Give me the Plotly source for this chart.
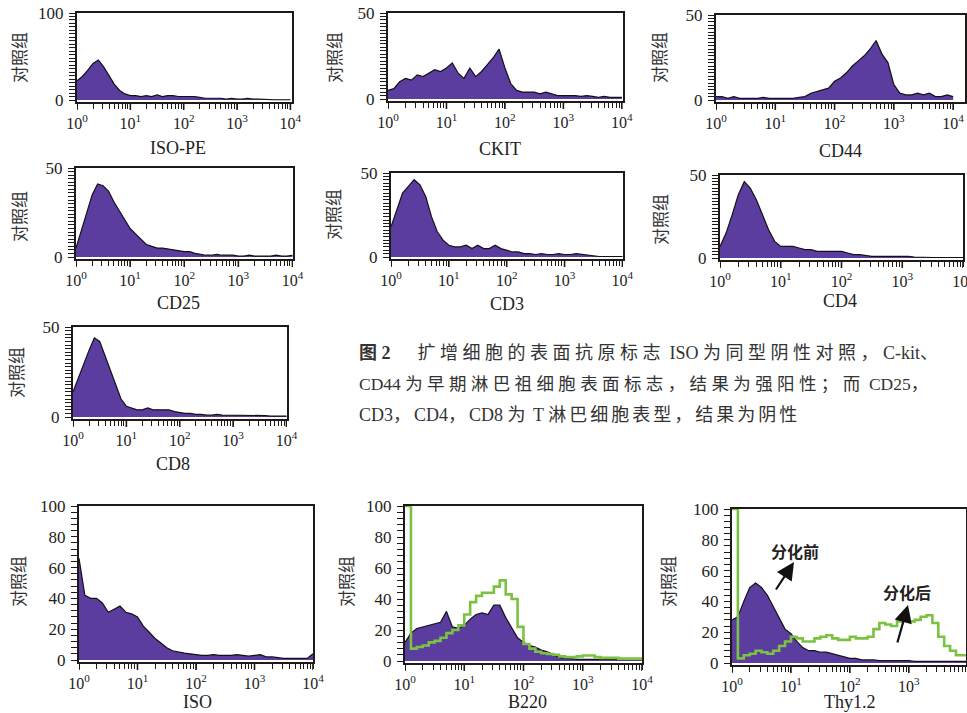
import plotly.graph_objects as go

W, H = 967, 713

# ---- data: histogram counts per log-decade bin (log10 of fluorescence) ----
LOG_BINS = [0.0, 0.1, 0.2, 0.3, 0.4, 0.5, 0.6, 0.7, 0.8, 0.9,
            1.0, 1.1, 1.2, 1.3, 1.4, 1.5, 1.6, 1.7, 1.8, 1.9,
            2.0, 2.1, 2.2, 2.3, 2.4, 2.5, 2.6, 2.7, 2.8, 2.9,
            3.0, 3.1, 3.2, 3.3, 3.4, 3.5, 3.6, 3.7, 3.8, 3.9, 4.0]

ISO_PE = [22, 27, 34, 42, 46, 38, 28, 18, 11, 7,
          5, 5, 4, 5, 4, 6, 4, 5, 5, 4,
          4, 4, 4, 3, 2, 2, 2, 2, 1, 2,
          1, 1, 2, 1, 1, 0.5, 0.5, 0.3, 0.3, 0.3, 0.3]
CKIT = [5, 6, 10, 12, 11, 14, 13, 15, 17, 16,
        18, 21, 15, 12, 18, 13, 16, 20, 24, 29,
        18, 9, 5, 4, 4, 4, 3, 4, 3, 2,
        2, 2, 2, 1.5, 2, 1.5, 1, 1.5, 1, 1, 1]
CD44 = [2, 2, 1, 2, 1, 1, 1, 1, 1.5, 1,
        1, 1, 1, 1, 1.5, 2, 4, 5, 6, 7,
        11, 13, 16, 20, 23, 26, 30, 35, 27, 22,
        9, 4, 3, 3, 4, 3, 4, 2, 2, 3, 2]
CD25 = [5, 15, 25, 35, 41, 40, 37, 31, 26, 21,
        16, 13, 10, 7, 6, 5, 5, 4.5, 4, 3.5,
        3, 3, 2, 1.5, 1, 1, 1.5, 1, 1, 1,
        0.5, 0.5, 1, 0.5, 0.5, 0.5, 0.5, 1, 0.5, 0.5, 1]
CD3 = [18, 28, 38, 42, 46, 43, 36, 24, 15, 10,
       7, 6, 6, 7, 5, 7, 5, 5, 7, 5,
       4, 3, 3, 2, 2, 1.5, 2, 1.5, 1.5, 2,
       1.5, 1.5, 2, 1.5, 1, 0.5, 0.3, 0.3, 0.3, 0.3, 0.3]
CD4 = [7, 15, 26, 38, 46, 42, 35, 26, 17, 10,
       7, 7, 7, 6, 5, 5, 4, 4, 4, 4,
       4, 3, 2, 2, 1.5, 1, 1, 1, 1, 1,
       1, 1, 0.5, 0.3, 0.3, 0.3, 0.3, 0.3, 0.3, 0.3, 0.3]
CD8 = [14, 22, 30, 37, 44, 42, 34, 26, 18, 10,
       6, 5, 4, 4, 5, 4, 4, 4, 4, 3,
       2.5, 2, 2, 1.5, 1.5, 1, 1, 1.5, 1, 1,
       0.8, 0.8, 0.8, 1, 0.8, 1, 0.8, 0.5, 0.5, 0.5, 0.5]
ISO = [66, 42, 40, 40, 37, 31, 33, 35, 31, 30,
       28, 22, 18, 14, 11, 8, 6, 5, 4.5, 4,
       3.5, 3, 3, 3.5, 3, 3, 3, 3.5, 3, 2.5,
       3, 3.5, 2, 2, 1.5, 1, 1, 1, 1, 1, 4]
B220_BEFORE = [12, 18, 21, 22, 23, 24, 25, 32, 22, 21,
               23, 27, 30, 31, 30, 36, 36, 28, 21, 15,
               12, 10, 9, 7, 6, 4, 2.5, 1.5, 1.5, 1,
               1, 1, 1, 1, 1, 1, 0.8, 0.8, 0.8, 0.8, 1]
B220_AFTER = [100, 8, 9, 10, 12, 13, 15, 18, 20, 23,
              30, 38, 42, 44, 44, 48, 52, 43, 40, 22,
              11, 8, 6, 5, 4.5, 4, 3, 2.5, 2.5, 3,
              3.5, 3.5, 2.5, 2, 2, 2, 1.5, 1.5, 1.5, 1.5, 2]
THY_BEFORE = [28, 30, 40, 49, 52, 49, 44, 37, 30, 22,
              19, 14, 10, 8, 8, 7, 7, 6, 5, 4,
              3, 3, 2, 2, 2, 1.5, 1.5, 1.5, 1.5, 1.5,
              1.5, 1, 1, 1, 1, 1, 1, 1, 1, 1, 1]
THY_AFTER = [100, 3, 5, 6, 8, 7, 6, 8, 11, 14,
             17, 16, 14, 14, 16, 17, 18, 16, 15, 15,
             17, 16, 16, 17, 22, 26, 25, 24, 27, 29,
             27, 28, 30, 31, 26, 17, 11, 8, 5, 5, 4]

X_TICK_VALS = [1, 10, 100, 1000, 10000]
X_TICK_TEXT = ["10<sup>0</sup>", "10<sup>1</sup>", "10<sup>2</sup>",
               "10<sup>3</sup>", "10<sup>4</sup>"]
X_MINOR_VALS = [m * 10 ** d for d in range(4) for m in range(2, 10)]
Y_LABEL = "对照组"

X = [10 ** v for v in LOG_BINS]

# all x ticks (labelled decades + unlabelled minor ticks)
X_ALL_VALS = X_TICK_VALS + X_MINOR_VALS
X_ALL_TEXT = X_TICK_TEXT + [""] * len(X_MINOR_VALS)

PURPLE = "#5b3c9f"
GREEN = "#7cc242"
AXC = "#1e1a1a"
SERIF = "Liberation Serif, Times New Roman, serif"
CJK = "Noto Sans CJK SC"

# name, box(left,right,top,zero) in px, ymax, yticks, series, ylabel pos, xlabel pos, xmax
panels = [
    ("ISO-PE", (77, 292, 13, 100), 100, [0, 100], [ISO_PE], None, (18, 58), (178, 148), 4.03),
    ("CKIT", (388, 623, 13, 99), 50, [0, 50], [CKIT], None, (333, 58), (500, 149), 4.02),
    ("CD44", (716, 965, 15, 100), 50, [0, 50], [CD44], None, (658, 58), (840, 151), 4.2),
    ("CD25", (76, 293, 168, 257), 50, [0, 50], [CD25], None, (18, 217), (178, 303), 4.01),
    ("CD3", (391, 623, 173, 257), 50, [0, 50], [CD3], None, (333, 215), (507, 304), 4.01),
    ("CD4", (720, 963, 175, 258), 50, [0, 50], [CD4], None, (659, 220), (840, 301), 4.0),
    ("CD8", (73, 287, 327, 417), 50, [0, 50], [CD8], None, (15, 373), (173, 464), 4.01),
    ("ISO", (79, 313, 506, 660), 100, [0, 20, 40, 60, 80, 100], [ISO], None, (17, 582), (197, 702), 4.0),
    ("B220", (405, 642, 506, 661), 100, [0, 20, 40, 60, 80, 100], [B220_BEFORE], B220_AFTER, (345, 582), (527, 702), 4.0),
    ("Thy1.2", (732, 966, 509, 663), 100, [0, 20, 40, 60, 80, 100], [THY_BEFORE], THY_AFTER, (667, 582), (850, 702), 3.97),
]

fig = go.Figure()
annotations = []
shapes = []
layout = {}
TICK_LEN = 5
MAJOR_LEN = 8


def sfx(k):
    return "" if k == 1 else str(k)


for i, (name, box, ymax, yt, fills, green, ylp, xlp, xmax) in enumerate(panels, start=1):
    L, R, T, Z = box
    xa, ya = "x" + sfx(i), "y" + sfx(i)
    for s in fills:
        fig.add_trace(go.Scatter(
            x=X, y=s, mode="lines", fill="tozeroy", fillcolor=PURPLE,
            line=dict(color="#151018", width=1.2), xaxis=xa, yaxis=ya,
            showlegend=False, hoverinfo="skip"))
    if green is not None:
        fig.add_trace(go.Scatter(
            x=X, y=green, mode="lines", line=dict(color=GREEN, width=2.6, shape="hv"),
            xaxis=xa, yaxis=ya, showlegend=False, hoverinfo="skip"))
    bottom = Z + 2
    upx = ymax / (Z - T)              # data units per pixel (y)
    ylo = -upx * (bottom - Z)

    y_all = [k * ymax / 25 for k in range(0, 26)]
    y_text = [("%d" % v) if any(abs(v - t) < 1e-9 for t in yt) else "" for v in y_all]

    # longer marks at the labelled decades
    for v in X_TICK_VALS:
        shapes.append(dict(type="line", xref=xa, yref="paper", x0=v, x1=v,
                           y0=1 - (bottom + 0.5) / H, y1=1 - (bottom + MAJOR_LEN) / H,
                           line=dict(color=AXC, width=1.6), layer="above"))

    common = dict(showgrid=False, zeroline=False, automargin=False, fixedrange=True,
                  ticklabeloverflow="allow")
    layout["xaxis" + sfx(i)] = dict(
        domain=[L / W, R / W], anchor=ya, type="log", range=[0, xmax],
        tickmode="array", tickvals=X_ALL_VALS, ticktext=X_ALL_TEXT,
        ticks="outside", ticklen=TICK_LEN, tickwidth=1.4, tickcolor=AXC,
        showline=True, linecolor=AXC, linewidth=1.6, mirror=True,
        ticklabelstandoff=1,
        tickfont=dict(family=SERIF, size=16, color="#222"), **common)
    layout["yaxis" + sfx(i)] = dict(
        domain=[1 - bottom / H, 1 - T / H], anchor=xa, range=[ylo, ymax],
        tickmode="array", tickvals=y_all, ticktext=y_text,
        ticks="outside", ticklen=TICK_LEN + 1, tickwidth=1.4, tickcolor=AXC,
        showline=True, linecolor=AXC, linewidth=2, mirror=True,
        ticklabelstandoff=2,
        tickfont=dict(family=SERIF, size=17, color="#222"), **common)
    annotations.append(dict(text=Y_LABEL, x=ylp[0] / W, y=1 - ylp[1] / H, xref="paper", yref="paper",
                            textangle=-90, showarrow=False, xanchor="center", yanchor="middle",
                            font=dict(family=CJK, size=17, color="#333")))
    annotations.append(dict(text=name, x=xlp[0] / W, y=1 - xlp[1] / H, xref="paper", yref="paper",
                            showarrow=False, xanchor="center", yanchor="middle",
                            font=dict(family=SERIF, size=18, color="#222")))


def px(x, y):
    return x / W, 1 - y / H


# arrows + labels in Thy1.2 panel
for text, tpos, tip, tail in [("分化前", (795, 551), (794, 562), (775, 591)),
                              ("分化后", (907, 592), (908, 605), (897, 644))]:
    tx, ty = px(*tpos)
    annotations.append(dict(text="<b>" + text + "</b>", x=tx, y=ty, xref="paper", yref="paper",
                            xanchor="center", yanchor="middle",
                            showarrow=False, font=dict(family=CJK, size=16, color="#222")))
    ax, ay = px(*tip)
    annotations.append(dict(text="", x=ax, y=ay, xref="paper", yref="paper", showarrow=True,
                            ax=tail[0] - tip[0], ay=tail[1] - tip[1], arrowhead=2,
                            arrowsize=1.6, arrowwidth=2.2, arrowcolor="#111"))

CAPTION = [
    ("图 2", "扩增细胞的表面抗原标志 ISO 为同型阴性对照，C-kit、", "\u2005", 18),
    ("", "CD44 为早期淋巴祖细胞表面标志，结果为强阳性；而 CD25，", "\u2005", 17.5),
    ("", "CD3，CD4，CD8 为 T 淋巴细胞表型，结果为阴性", "\u2006", 18),
]


def spaced(s, gap):
    # justified print: a little extra room after each CJK glyph
    out = []
    for ch in s:
        out.append(ch)
        if ord(ch) > 0x2E80:
            out.append(gap)
    return "".join(out)


for k, (head, line, gap, fs) in enumerate(CAPTION):
    cx, cy = px(357, 353 + 31 * k)
    txt = ("<b>" + head + "</b>\u2003\u2002" if head else "") + spaced(line, gap)
    annotations.append(dict(text=txt, x=cx, y=cy, xref="paper", yref="paper", showarrow=False,
                            xanchor="left", yanchor="middle",
                            font=dict(family="Liberation Serif, " + CJK, size=fs, color="#333")))

fig.update_layout(
    width=W, height=H, margin=dict(l=0, r=0, t=0, b=0, autoexpand=False),
    paper_bgcolor="white", plot_bgcolor="white",
    annotations=annotations, shapes=shapes, **layout)

fig.write_html("out.html", config={"displayModeBar": False},
               post_script="document.body.style.margin='0';document.body.style.padding='0';")
